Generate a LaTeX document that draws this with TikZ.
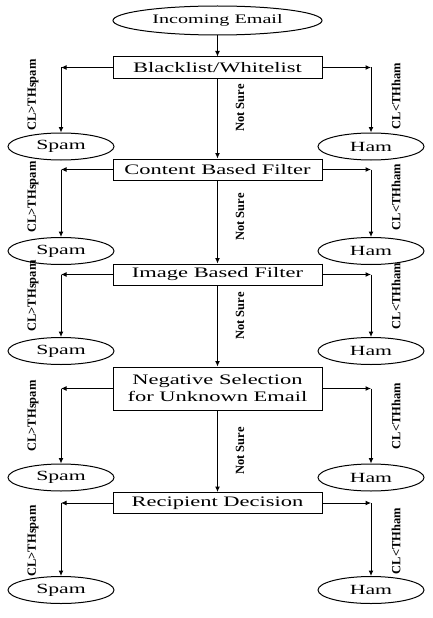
\documentclass[tikz,border=0pt]{standalone}
\usepackage{fontspec}
\setmainfont{Liberation Serif}
\newfontfamily\wideserif[FakeStretch=1.55]{Liberation Serif}
\usetikzlibrary{arrows.meta,shapes.geometric}
\begin{document}
\begin{tikzpicture}[x=1pt,y=-1pt,
  box/.style={draw,line width=1pt,minimum width=209pt,minimum height=21pt,inner sep=0pt,
    font=\wideserif\fontsize{14.5}{17}\selectfont,align=center},
  oval/.style={draw,ellipse,line width=1pt,inner sep=0pt,minimum width=106pt,minimum height=27pt,
    font=\wideserif\fontsize{14}{17}\selectfont},
  arr/.style={line width=1pt,-{Latex[length=5.5pt,width=5pt]}},
  lab/.style={font=\bfseries\fontsize{12.5}{14}\selectfont,rotate=90,inner sep=0pt}]
\useasboundingbox (0,0) rectangle (432,618);

\node[oval,minimum width=209pt,minimum height=29pt,font=\wideserif\fontsize{13}{15}\selectfont] (in) at (217.5,20.5) {Incoming Email};
\node[box] (b1) at (217.5,67.5) {Blacklist/Whitelist};
\node[box] (b2) at (217.5,169.5) {Content Based Filter};
\node[box] (b3) at (217.5,274.5) {Image Based Filter};
\node[box,minimum height=43pt] (b4) at (217.5,388.5) {Negative Selection\\for Unknown Email};
\node[box] (b5) at (217.5,503) {Recipient Decision};

\node[oval] (s1) at (61,146.5) {Spam};
\node[oval] (s2) at (61,251) {Spam};
\node[oval] (s3) at (61,351) {Spam};
\node[oval] (s4) at (61,477.5) {Spam};
\node[oval] (s5) at (61,590) {Spam};
\node[oval] (h1) at (371,146.5) {Ham};
\node[oval] (h2) at (371,251) {Ham};
\node[oval] (h3) at (371,351) {Ham};
\node[oval] (h4) at (371,477.5) {Ham};
\node[oval] (h5) at (371,590) {Ham};

\foreach \i in {1,...,5}{
  \draw[line width=1.8pt] (b\i.north east) -- (b\i.south east);
  \draw[arr] (b\i.west) -- (b\i.west -| s\i.center);
  \draw[arr] (b\i.west -| s\i.center) -- (s\i.north);
  \draw[arr] (b\i.east) -- (b\i.east -| h\i.center);
  \draw[arr] (b\i.east -| h\i.center) -- (h\i.north);
}

\draw[arr] (in) -- (b1);
\draw[arr] (b1) -- (b2);
\draw[arr] (b2) -- (b3);
\draw[arr] (b3) -- (b4);
\draw[arr] (b4) -- (b5);

\node[lab] (n1) at (240,108) {Not Sure};
\node[lab] (n2) at (240,217) {Not Sure};
\node[lab] (n3) at (240,316) {Not Sure};
\node[lab] (n4) at (240,451) {Not Sure};

\node[lab] (cs1) at (33,95) {CL>THspam};
\node[lab] (cs2) at (33,197) {CL>THspam};
\node[lab] (cs3) at (33,296) {CL>THspam};
\node[lab] (cs4) at (33,416) {CL>THspam};
\node[lab] (cs5) at (33,541) {CL>THspam};
\node[lab] (ch1) at (396,96) {CL<THham};
\node[lab] (ch2) at (396,197) {CL<THham};
\node[lab] (ch3) at (396,296) {CL<THham};
\node[lab] (ch4) at (396,416) {CL<THham};
\node[lab] (ch5) at (396,541) {CL<THham};
\end{tikzpicture}
\end{document}
